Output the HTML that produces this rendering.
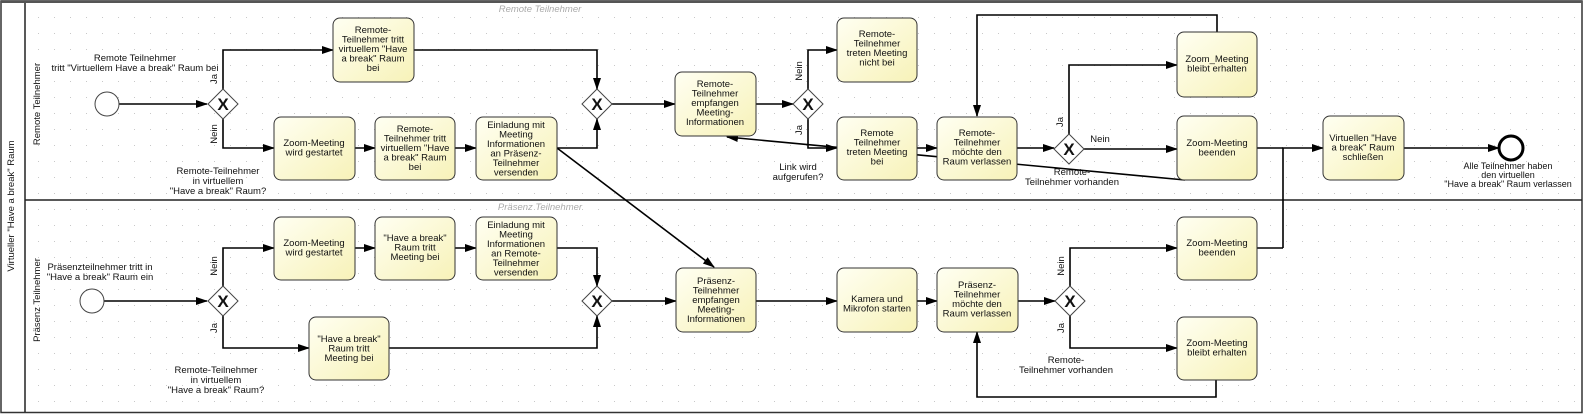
<!DOCTYPE html>
<html><head><meta charset="utf-8"><style>
html,body{margin:0;padding:0;background:#fff;}
svg{display:block;font-family:"Liberation Sans","DejaVu Sans",sans-serif;}
text{font-size:9.5px;fill:#111;}
</style></head><body>
<svg width="1583" height="415" viewBox="0 0 1583 415" xmlns="http://www.w3.org/2000/svg">
<defs>
<pattern id="dots" x="6" y="1" width="16" height="16" patternUnits="userSpaceOnUse"><rect x="0" y="0" width="1" height="1" fill="#c8c8c8"/></pattern>
<linearGradient id="tg" x1="0" y1="0" x2="1" y2="1"><stop offset="0" stop-color="#fffff2"/><stop offset="1" stop-color="#f7f2b8"/></linearGradient>
<marker id="ar" markerWidth="12" markerHeight="10" refX="11" refY="5" orient="auto" markerUnits="userSpaceOnUse"><path d="M0,1 L12,5 L0,9 z" fill="#000"/></marker>
</defs>
<rect x="0" y="0" width="1583" height="415" fill="#fff"/>
<rect x="25" y="2" width="1556" height="410" fill="url(#dots)"/>
<rect x="1" y="1" width="1581" height="411.5" fill="none" stroke="#333" stroke-width="1.5"/>
<line x1="25" y1="1" x2="25" y2="412" stroke="#222" stroke-width="1.5"/>
<line x1="25" y1="200" x2="1582" y2="200" stroke="#222" stroke-width="1.5"/>
<line x1="1" y1="2" x2="1582" y2="2" stroke="#555" stroke-width="2"/>
<text transform="translate(14,206) rotate(-90)" text-anchor="middle" font-size="10">Virtueller "Have a break" Raum</text>
<text transform="translate(40,104) rotate(-90)" text-anchor="middle" font-size="10">Remote Teilnehmer</text>
<text transform="translate(40,300) rotate(-90)" text-anchor="middle" font-size="10">Präsenz Teilnehmer</text>
<text x="540" y="12" text-anchor="middle" font-style="italic" style="fill:#aaa">Remote Teilnehmer</text>
<text x="540" y="210" text-anchor="middle" font-style="italic" style="fill:#aaa">Präsenz Teilnehmer</text>

<g fill="none" stroke="#000" stroke-width="1.6">
<line x1="119" y1="104" x2="207" y2="104" marker-end="url(#ar)"/>
<polyline points="223,89 223,50 333,50" marker-end="url(#ar)"/>
<polyline points="223,119 223,148 274,148" marker-end="url(#ar)"/>
<line x1="355" y1="148" x2="375" y2="148" marker-end="url(#ar)"/>
<line x1="455" y1="148" x2="476" y2="148" marker-end="url(#ar)"/>
<polyline points="414,50 597,50 597,89" marker-end="url(#ar)"/>
<polyline points="557,148 597,148 597,119" marker-end="url(#ar)"/>
<line x1="557" y1="148" x2="714" y2="267" marker-end="url(#ar)"/>
<line x1="612" y1="104" x2="675" y2="104" marker-end="url(#ar)"/>
<line x1="756" y1="104" x2="793" y2="104" marker-end="url(#ar)"/>
<polyline points="808,89 808,50 837,50" marker-end="url(#ar)"/>
<polyline points="808,119 808,148 837,148" marker-end="url(#ar)"/>
<line x1="917" y1="148" x2="937" y2="148" marker-end="url(#ar)"/>
<line x1="1017" y1="148" x2="1054" y2="148" marker-end="url(#ar)"/>
<polyline points="1069,134 1069,65 1177,65" marker-end="url(#ar)"/>
<line x1="1084" y1="149" x2="1177" y2="149" marker-end="url(#ar)"/>
<polyline points="1217,32 1217,15 977,15 977,116" marker-end="url(#ar)"/>
<line x1="1185" y1="180" x2="727" y2="137" marker-end="url(#ar)"/>
<polyline points="1257,148 1283,148"/>
<polyline points="1283,248 1283,148 1323,148" marker-end="url(#ar)"/>
<line x1="1404" y1="148" x2="1499" y2="148" marker-end="url(#ar)"/>
<line x1="104" y1="301" x2="207" y2="301" marker-end="url(#ar)"/>
<polyline points="223,286 223,248 274,248" marker-end="url(#ar)"/>
<polyline points="223,316 223,348 309,348" marker-end="url(#ar)"/>
<line x1="355" y1="248" x2="375" y2="248" marker-end="url(#ar)"/>
<line x1="455" y1="248" x2="476" y2="248" marker-end="url(#ar)"/>
<polyline points="557,248 597,248 597,286" marker-end="url(#ar)"/>
<polyline points="389,348 597,348 597,316" marker-end="url(#ar)"/>
<line x1="612" y1="301" x2="676" y2="301" marker-end="url(#ar)"/>
<line x1="756" y1="301" x2="837" y2="301" marker-end="url(#ar)"/>
<line x1="917" y1="301" x2="937" y2="301" marker-end="url(#ar)"/>
<line x1="1018" y1="301" x2="1055" y2="301" marker-end="url(#ar)"/>
<polyline points="1070,286 1070,248 1177,248" marker-end="url(#ar)"/>
<polyline points="1070,316 1070,348 1177,348" marker-end="url(#ar)"/>
<polyline points="1257,248 1283,248"/>
<polyline points="1216,380 1216,397 977,397 977,332" marker-end="url(#ar)"/>
</g>

<circle cx="107" cy="104" r="12" fill="#fff" stroke="#444" stroke-width="1"/>
<circle cx="92" cy="301" r="12" fill="#fff" stroke="#444" stroke-width="1"/>
<circle cx="1511" cy="148" r="12" fill="#fff" stroke="#000" stroke-width="3"/>

<g stroke="#444" stroke-width="1" fill="#fff">
<path d="M223,89 L238,104 L223,119 L208,104 z"/>
<path d="M597,89 L612,104 L597,119 L582,104 z"/>
<path d="M808,89 L823,104 L808,119 L793,104 z"/>
<path d="M1069,134 L1084,149 L1069,164 L1054,149 z"/>
<path d="M223,286 L238,301 L223,316 L208,301 z"/>
<path d="M597,286 L612,301 L597,316 L582,301 z"/>
<path d="M1070,286 L1085,301 L1070,316 L1055,301 z"/>
</g>
<g font-weight="bold" text-anchor="middle">
<text x="223" y="110" style="font-size:17px">X</text>
<text x="597" y="110" style="font-size:17px">X</text>
<text x="808" y="110" style="font-size:17px">X</text>
<text x="1069" y="155" style="font-size:17px">X</text>
<text x="223" y="307" style="font-size:17px">X</text>
<text x="597" y="307" style="font-size:17px">X</text>
<text x="1070" y="307" style="font-size:17px">X</text>
</g>

<g fill="url(#tg)" stroke="#333" stroke-width="1">
<rect x="333" y="18" width="81" height="64" rx="7"/>
<rect x="274" y="117" width="81" height="63" rx="7"/>
<rect x="375" y="117" width="80" height="63" rx="7"/>
<rect x="476" y="117" width="81" height="63" rx="7"/>
<rect x="675" y="72" width="81" height="64" rx="7"/>
<rect x="837" y="18" width="80" height="64" rx="7"/>
<rect x="837" y="117" width="80" height="63" rx="7"/>
<rect x="937" y="117" width="80" height="63" rx="7"/>
<rect x="1177" y="32" width="80" height="65" rx="7"/>
<rect x="1177" y="116" width="80" height="64" rx="7"/>
<rect x="1323" y="116" width="81" height="64" rx="7"/>
<rect x="274" y="217" width="81" height="63" rx="7"/>
<rect x="375" y="217" width="80" height="63" rx="7"/>
<rect x="476" y="217" width="81" height="63" rx="7"/>
<rect x="309" y="317" width="80" height="63" rx="7"/>
<rect x="676" y="268" width="80" height="64" rx="7"/>
<rect x="837" y="268" width="80" height="64" rx="7"/>
<rect x="937" y="268" width="81" height="64" rx="7"/>
<rect x="1177" y="217" width="80" height="63" rx="7"/>
<rect x="1177" y="317" width="80" height="63" rx="7"/>
</g>
<g text-anchor="middle">
<text x="373" y="33">Remote-<tspan x="373" dy="9.5">Teilnehmer tritt</tspan><tspan x="373" dy="9.5">virtuellem "Have</tspan><tspan x="373" dy="9.5">a break" Raum</tspan><tspan x="373" dy="9.5">bei</tspan></text>
<text x="314" y="146">Zoom-Meeting<tspan x="314" dy="9.5">wird gestartet</tspan></text>
<text x="415" y="132">Remote-<tspan x="415" dy="9.5">Teilnehmer tritt</tspan><tspan x="415" dy="9.5">virtuellem "Have</tspan><tspan x="415" dy="9.5">a break" Raum</tspan><tspan x="415" dy="9.5">bei</tspan></text>
<text x="516" y="128">Einladung mit<tspan x="516" dy="9.5">Meeting</tspan><tspan x="516" dy="9.5">Informationen</tspan><tspan x="516" dy="9.5">an Präsenz-</tspan><tspan x="516" dy="9.5">Teilnehmer</tspan><tspan x="516" dy="9.5">versenden</tspan></text>
<text x="715" y="87">Remote-<tspan x="715" dy="9.5">Teilnehmer</tspan><tspan x="715" dy="9.5">empfangen</tspan><tspan x="715" dy="9.5">Meeting-</tspan><tspan x="715" dy="9.5">Informationen</tspan></text>
<text x="877" y="37">Remote-<tspan x="877" dy="9.5">Teilnehmer</tspan><tspan x="877" dy="9.5">treten Meeting</tspan><tspan x="877" dy="9.5">nicht bei</tspan></text>
<text x="877" y="136">Remote<tspan x="877" dy="9.5">Teilnehmer</tspan><tspan x="877" dy="9.5">treten Meeting</tspan><tspan x="877" dy="9.5">bei</tspan></text>
<text x="977" y="136">Remote-<tspan x="977" dy="9.5">Teilnehmer</tspan><tspan x="977" dy="9.5">möchte den</tspan><tspan x="977" dy="9.5">Raum verlassen</tspan></text>
<text x="1217" y="62">Zoom_Meeting<tspan x="1217" dy="9.5">bleibt erhalten</tspan></text>
<text x="1217" y="146">Zoom-Meeting<tspan x="1217" dy="9.5">beenden</tspan></text>
<text x="1363" y="141">Virtuellen "Have<tspan x="1363" dy="9.5">a break" Raum</tspan><tspan x="1363" dy="9.5">schließen</tspan></text>
<text x="314" y="246">Zoom-Meeting<tspan x="314" dy="9.5">wird gestartet</tspan></text>
<text x="415" y="241">"Have a break"<tspan x="415" dy="9.5">Raum tritt</tspan><tspan x="415" dy="9.5">Meeting bei</tspan></text>
<text x="516" y="228">Einladung mit<tspan x="516" dy="9.5">Meeting</tspan><tspan x="516" dy="9.5">Informationen</tspan><tspan x="516" dy="9.5">an Remote-</tspan><tspan x="516" dy="9.5">Teilnehmer</tspan><tspan x="516" dy="9.5">versenden</tspan></text>
<text x="349" y="342">"Have a break"<tspan x="349" dy="9.5">Raum tritt</tspan><tspan x="349" dy="9.5">Meeting bei</tspan></text>
<text x="716" y="284">Präsenz-<tspan x="716" dy="9.5">Teilnehmer</tspan><tspan x="716" dy="9.5">empfangen</tspan><tspan x="716" dy="9.5">Meeting-</tspan><tspan x="716" dy="9.5">Informationen</tspan></text>
<text x="877" y="302">Kamera und<tspan x="877" dy="9.5">Mikrofon starten</tspan></text>
<text x="977" y="288">Präsenz-<tspan x="977" dy="9.5">Teilnehmer</tspan><tspan x="977" dy="9.5">möchte den</tspan><tspan x="977" dy="9.5">Raum verlassen</tspan></text>
<text x="1217" y="246">Zoom-Meeting<tspan x="1217" dy="9.5">beenden</tspan></text>
<text x="1217" y="346">Zoom-Meeting<tspan x="1217" dy="9.5">bleibt erhalten</tspan></text>
</g>

<g text-anchor="middle">
<text x="135" y="61">Remote Teilnehmer<tspan x="135" dy="10">tritt "Virtuellem Have a break" Raum bei</tspan></text>
<text x="218" y="174">Remote-Teilnehmer<tspan x="218" dy="10">in virtuellem</tspan><tspan x="218" dy="10">"Have a break" Raum?</tspan></text>
<text x="798" y="170">Link wird<tspan x="798" dy="10">aufgerufen?</tspan></text>
<text x="1072" y="175">Remote-<tspan x="1072" dy="10">Teilnehmer vorhanden</tspan></text>
<text x="1508" y="169" style="font-size:9px">Alle Teilnehmer haben<tspan x="1508" dy="9">den virtuellen</tspan><tspan x="1508" dy="9">"Have a break" Raum verlassen</tspan></text>
<text x="100" y="270">Präsenzteilnehmer tritt in<tspan x="100" dy="10">"Have a break" Raum ein</tspan></text>
<text x="216" y="373">Remote-Teilnehmer<tspan x="216" dy="10">in virtuellem</tspan><tspan x="216" dy="10">"Have a break" Raum?</tspan></text>
<text x="1066" y="363">Remote-<tspan x="1066" dy="10">Teilnehmer vorhanden</tspan></text>
<text x="1100" y="142">Nein</text>
</g>
<g text-anchor="middle">
<text transform="translate(217,79) rotate(-90)">Ja</text>
<text transform="translate(217,134) rotate(-90)">Nein</text>
<text transform="translate(802,71) rotate(-90)">Nein</text>
<text transform="translate(802,130) rotate(-90)">Ja</text>
<text transform="translate(1063,122) rotate(-90)">Ja</text>
<text transform="translate(217,266) rotate(-90)">Nein</text>
<text transform="translate(217,328) rotate(-90)">Ja</text>
<text transform="translate(1064,266) rotate(-90)">Nein</text>
<text transform="translate(1064,328) rotate(-90)">Ja</text>
</g>
</svg>
</body></html>
